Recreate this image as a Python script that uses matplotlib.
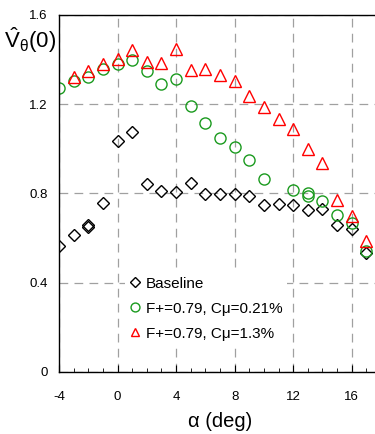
import numpy as np
import matplotlib
matplotlib.use('Agg')
import matplotlib.pyplot as plt
from matplotlib.ticker import MultipleLocator

plt.rcParams['font.family'] = ['Liberation Sans', 'DejaVu Sans']
plt.rcParams['mathtext.fontset'] = 'custom'
plt.rcParams['mathtext.rm'] = 'Liberation Sans'
plt.rcParams['mathtext.it'] = 'Liberation Sans:italic'
plt.rcParams['axes.unicode_minus'] = False

# baseline
alpha_base = [-4, -3, -2, -2, -1, 0, 1, 2, 3, 4, 5, 6, 7, 8, 9, 10, 11, 12, 13, 14, 15, 16, 17]
v_base = [0.565, 0.614, 0.657, 0.648, 0.758, 1.036, 1.076, 0.842, 0.81, 0.807, 0.849,
          0.798, 0.798, 0.798, 0.788, 0.749, 0.753, 0.749, 0.725, 0.731, 0.659, 0.641, 0.535]

# F+=0.79, Cmu=0.21%
alpha_low = [-4, -3, -2, -1, 0, 1, 2, 3, 4, 5, 6, 7, 8, 9, 10, 12, 13, 13, 14, 15, 16, 17]
v_low = [1.275, 1.302, 1.323, 1.357, 1.38, 1.399, 1.351, 1.291, 1.314, 1.19, 1.115,
         1.049, 1.01, 0.949, 0.865, 0.816, 0.804, 0.789, 0.765, 0.704, 0.67, 0.543]

# F+=0.79, Cmu=1.3%
alpha_high = [-3, -2, -1, 0, 1, 2, 3, 4, 5, 6, 7, 8, 9, 10, 11, 12, 13, 14, 15, 16, 17]
v_high = [1.32, 1.351, 1.38, 1.401, 1.444, 1.39, 1.386, 1.447, 1.354, 1.357, 1.332,
          1.302, 1.239, 1.187, 1.133, 1.087, 1.0, 0.936, 0.771, 0.697, 0.587]

fig = plt.figure(figsize=(3.75, 4.34), dpi=100)
ax = fig.add_axes([59/375, 1 - 372/434, 322/375, 357/434])

ax.plot(alpha_base, v_base, 'D', ms=6, mfc='none', mec='black', mew=1.0, label='Baseline')
ax.plot(alpha_low, v_low, 'o', ms=8, mfc='none', mec='#1a9a1e', mew=1.0, label='F+=0.79, Cμ=0.21%')
ax.plot(alpha_high, v_high, '^', ms=8, mfc='none', mec='#ff0000', mew=1.0, label='F+=0.79, Cμ=1.3%')

ax.set_xlim(-4, 18)
ax.set_ylim(0, 1.6)
ax.set_xticks([-4, 0, 4, 8, 12, 16])
ax.xaxis.set_minor_locator(MultipleLocator(1))
ax.set_yticks([0, 0.4, 0.8, 1.2, 1.6])
ax.set_yticklabels(['0', '0.4', '0.8', '1.2', '1.6'])
ax.tick_params(axis='x', which='major', direction='in', length=5, labelsize=9.5, pad=14)
ax.tick_params(axis='x', which='minor', direction='in', length=3)
ax.tick_params(axis='y', direction='in', length=0, labelsize=9.5, pad=8)

ax.grid(True, which='major', color='#a0a0a0', linestyle=(0, (7, 5)), linewidth=0.9)
ax.set_axisbelow(True)
for side in ['left', 'bottom', 'top']:
    ax.spines[side].set_linewidth(1.0)
ax.spines['right'].set_visible(False)

ax.set_xlabel('α (deg)', fontsize=14.5, labelpad=6)
fig.text(30/375, 1 - 40/434, r'$\hat{\mathrm{V}}_{\mathrm{θ}}(0)$', fontsize=16,
         ha='center', va='center')

leg = ax.legend(loc='upper left', bbox_to_anchor=(0.205, 0.28), fontsize=11,
                frameon=True, facecolor='white', edgecolor='none', framealpha=1,
                fancybox=False, handlelength=0.7, handletextpad=0.35, markerscale=0.8,
                labelspacing=0.72, borderpad=0.3, borderaxespad=0)

fig.savefig('out.png', dpi=100)
